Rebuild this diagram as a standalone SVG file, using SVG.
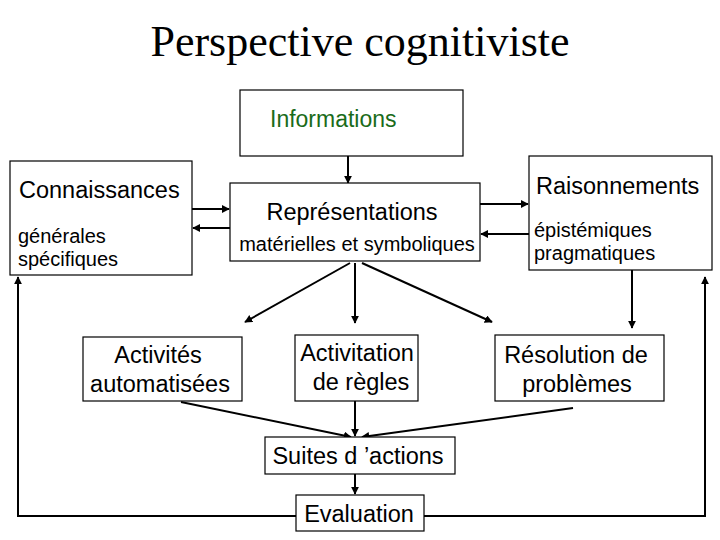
<svg xmlns="http://www.w3.org/2000/svg" width="720" height="540" viewBox="0 0 720 540">
<style>
.b{fill:#fff;stroke:#000;stroke-width:1.2}
.t{font-family:"Liberation Sans",Arial,sans-serif;font-size:23.5px;fill:#000}
.s{font-family:"Liberation Sans",Arial,sans-serif;font-size:20px;fill:#000}
.c line,.c polyline{stroke:#000;stroke-width:2;fill:none;marker-end:url(#a)}
</style>
<defs><marker id="a" viewBox="0 0 10 10" refX="9" refY="5" markerWidth="4" markerHeight="4" orient="auto"><path d="M0,0L10,5L0,10z" fill="#000"/></marker></defs>
<rect width="720" height="540" fill="#fff"/>
<text x="360" y="56" text-anchor="middle" font-family="Liberation Serif,serif" font-size="44">Perspective cognitiviste</text>
<g class="c">
<line x1="348" y1="156" x2="348" y2="183"/>
<line x1="192" y1="209" x2="229" y2="209"/>
<line x1="230" y1="228" x2="193" y2="228"/>
<line x1="480" y1="204" x2="528" y2="204"/>
<line x1="529" y1="234" x2="481" y2="234"/>
<line x1="350" y1="263" x2="245" y2="322"/>
<line x1="355" y1="263" x2="355" y2="323"/>
<line x1="362" y1="263" x2="492" y2="322"/>
<line x1="632" y1="270" x2="632" y2="328"/>
<line x1="181" y1="402" x2="351" y2="437"/>
<line x1="355" y1="401" x2="355" y2="436"/>
<line x1="573" y1="408" x2="362" y2="437"/>
<line x1="355" y1="474" x2="355" y2="494"/>
<polyline points="296,516 18,516 18,277"/>
<polyline points="424,516 705,516 705,277"/>
</g>
<g id="informations"><rect class="b" x="240" y="90" width="223" height="66"/><text x="270" y="127" font-family="Liberation Sans,Arial,sans-serif" font-size="23" fill="#1a6b1a">Informations</text></g>
<g id="connaissances"><rect class="b" x="10" y="161" width="182" height="114"/><text class="t" x="19" y="198">Connaissances</text><text class="s" x="18" y="243">générales</text><text class="s" x="18" y="266">spécifiques</text></g>
<g id="representations"><rect class="b" x="230" y="183" width="250" height="78"/><text class="t" x="352" y="220" text-anchor="middle">Représentations</text><text class="s" x="357" y="251" text-anchor="middle">matérielles et symboliques</text></g>
<g id="raisonnements"><rect class="b" x="529" y="156" width="183" height="114"/><text class="t" x="536" y="194">Raisonnements</text><text class="s" x="534" y="237">épistémiques</text><text class="s" x="534" y="260">pragmatiques</text></g>
<g id="activites"><rect class="b" x="83" y="337" width="159" height="64"/><text class="t" x="158" y="363" text-anchor="middle">Activités</text><text class="t" x="160" y="392" text-anchor="middle">automatisées</text></g>
<g id="activitation"><rect class="b" x="295" y="335" width="123" height="66"/><text class="t" x="357" y="361" text-anchor="middle">Activitation</text><text class="t" x="361" y="390" text-anchor="middle">de règles</text></g>
<g id="resolution"><rect class="b" x="495" y="335" width="169" height="66"/><text class="t" x="576" y="363" text-anchor="middle">Résolution de</text><text class="t" x="577" y="392" text-anchor="middle">problèmes</text></g>
<g id="suites"><rect class="b" x="265" y="437" width="190" height="37"/><text class="t" x="358" y="464" text-anchor="middle">Suites d ’actions</text></g>
<g id="evaluation"><rect class="b" x="296" y="495" width="128" height="36"/><text class="t" x="359" y="522" text-anchor="middle">Evaluation</text></g>
</svg>
